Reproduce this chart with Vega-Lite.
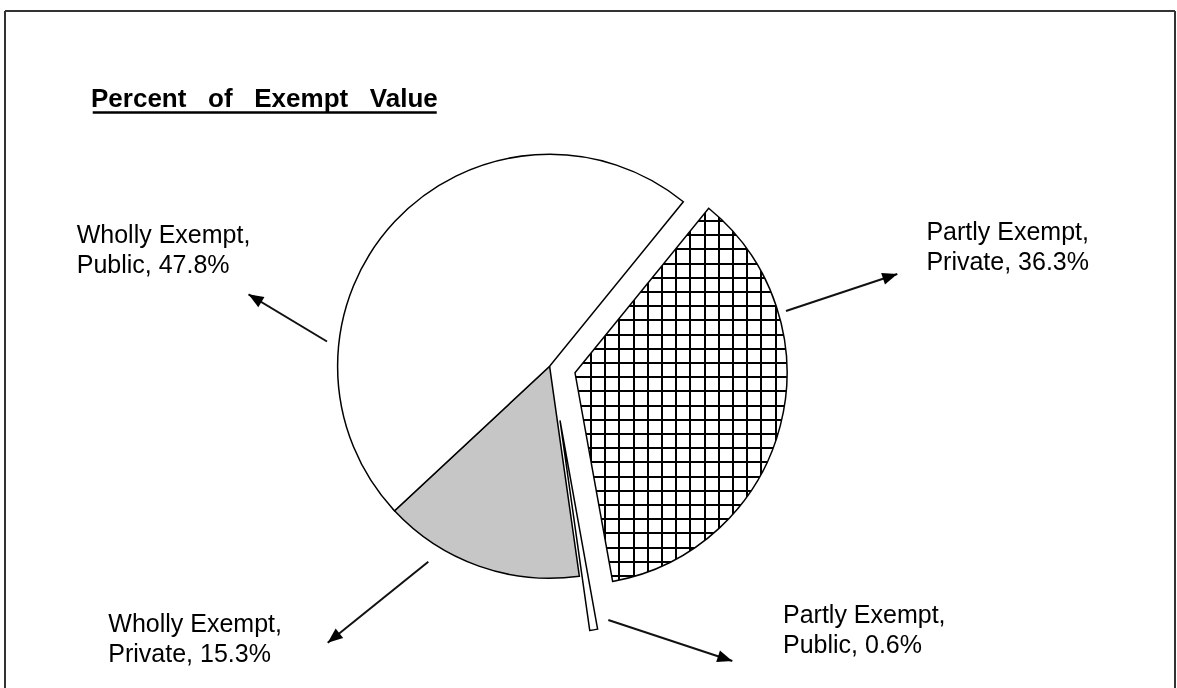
{
  "$schema": "https://vega.github.io/schema/vega-lite/v6.json",
  "width": 1177,
  "height": 688,
  "padding": 0,
  "autosize": {"type": "none"},
  "background": "#ffffff",
  "config": {"view": {"stroke": null}, "font": "Liberation Sans"},
  "datasets": {
    "slices": [
      {"category": "Partly Exempt, Private", "pct": 36.3, "order": 1},
      {"category": "Partly Exempt, Public", "pct": 0.6, "order": 2},
      {"category": "Wholly Exempt, Private", "pct": 15.3, "order": 3},
      {"category": "Wholly Exempt, Public", "pct": 47.8, "order": 4}
    ],
    "labels": [
      {"label": "Wholly Exempt,\nPublic, 47.8%", "lx": -2.2307, "ly": 0.5802},
      {"label": "Partly Exempt,\nPrivate, 36.3%", "lx": 1.7774, "ly": 0.5958},
      {"label": "Wholly Exempt,\nPrivate, 15.3%", "lx": -2.0816, "ly": -1.2519},
      {"label": "Partly Exempt,\nPublic, 0.6%", "lx": 1.1009, "ly": -1.2123}
    ],
    "arrows": [
      {"ax": -1.05, "ay": 0.117, "tx": -1.4203, "ty": 0.3396, "heading": 301.0},
      {"ax": 1.1151, "ay": 0.2608, "tx": 1.6401, "ty": 0.4354, "heading": 71.6},
      {"ax": -0.5722, "ay": -0.9217, "tx": -1.0467, "ty": -1.3038, "heading": 231.2},
      {"ax": 0.2769, "ay": -1.1967, "tx": 0.8618, "ty": -1.3901, "heading": 108.3}
    ]
  },
  "layer": [
    {
      "data": {"values": [{}]},
      "mark": {"type": "rule", "stroke": "#333333", "strokeWidth": 2},
      "encoding": {
        "x": {"datum": -2.5689, "type": "quantitative", "scale": {"domain": [-2.5925, 2.9594], "nice": false, "zero": false}, "axis": null},
        "x2": {"datum": 2.95},
        "y": {"datum": 1.6759, "type": "quantitative", "scale": {"domain": [-1.5175, 1.7278], "nice": false, "zero": false}, "axis": null}
      }
    },
    {
      "data": {"values": [{}]},
      "mark": {"type": "rule", "stroke": "#333333", "strokeWidth": 2},
      "encoding": {
        "x": {"datum": -2.5689, "type": "quantitative", "scale": {"domain": [-2.5925, 2.9594], "nice": false, "zero": false}, "axis": null},
        "y": {"datum": 1.6759, "type": "quantitative", "scale": {"domain": [-1.5175, 1.7278], "nice": false, "zero": false}, "axis": null},
        "y2": {"datum": -1.5175}
      }
    },
    {
      "data": {"values": [{}]},
      "mark": {"type": "rule", "stroke": "#333333", "strokeWidth": 2},
      "encoding": {
        "x": {"datum": 2.95, "type": "quantitative", "scale": {"domain": [-2.5925, 2.9594], "nice": false, "zero": false}, "axis": null},
        "y": {"datum": 1.6759, "type": "quantitative", "scale": {"domain": [-1.5175, 1.7278], "nice": false, "zero": false}, "axis": null},
        "y2": {"datum": -1.5175}
      }
    },
    {
      "data": {"name": "slices"},
      "transform": [
        {"stack": "pct", "groupby": [], "sort": [{"field": "order", "order": "ascending"}], "as": ["p0", "p1"]},
        {"filter": {"field": "category", "oneOf": ["Wholly Exempt, Public", "Wholly Exempt, Private"]}}
      ],
      "mark": {"type": "arc", "radius": 212, "stroke": "#000000", "strokeWidth": 1.5},
      "encoding": {
        "theta": {"field": "p0", "type": "quantitative", "stack": null, "scale": {"domain": [0, 100], "range": [0.6824, 6.9656]}},
        "theta2": {"field": "p1"},
        "x": {"datum": 0, "type": "quantitative", "scale": {"domain": [-2.5925, 2.9594], "nice": false, "zero": false}, "axis": null},
        "y": {"datum": 0, "type": "quantitative", "scale": {"domain": [-1.5175, 1.7278], "nice": false, "zero": false}, "axis": null},
        "fill": {"field": "category", "type": "nominal", "scale": {"domain": ["Wholly Exempt, Public", "Wholly Exempt, Private"], "range": ["#ffffff", "#c6c6c6"]}, "legend": null}
      }
    },
    {
      "data": {"name": "slices"},
      "transform": [
        {"stack": "pct", "groupby": [], "sort": [{"field": "order", "order": "ascending"}], "as": ["p0", "p1"]},
        {"filter": {"field": "category", "equal": "Partly Exempt, Public"}}
      ],
      "mark": {"type": "arc", "radius": 212, "fill": "#ffffff", "stroke": "#000000", "strokeWidth": 1.5},
      "encoding": {
        "theta": {"field": "p0", "type": "quantitative", "stack": null, "scale": {"domain": [0, 100], "range": [0.6824, 6.9656]}},
        "theta2": {"field": "p1"},
        "x": {"datum": 0.049, "type": "quantitative", "scale": {"domain": [-2.5925, 2.9594], "nice": false, "zero": false}, "axis": null},
        "y": {"datum": -0.2557, "type": "quantitative", "scale": {"domain": [-1.5175, 1.7278], "nice": false, "zero": false}, "axis": null}
      }
    },
    {
      "data": {"name": "slices"},
      "transform": [
        {"stack": "pct", "groupby": [], "sort": [{"field": "order", "order": "ascending"}], "as": ["p0", "p1"]},
        {"filter": {"field": "category", "equal": "Partly Exempt, Private"}}
      ],
      "mark": {
        "type": "arc", "radius": 212, "strokeWidth": 0,
        "fill": {
          "gradient": "linear", "x1": 0, "y1": 0, "x2": 1, "y2": 0,
          "stops": [
            {"offset": 0.0708, "color": "#ffffff"}, {"offset": 0.0708, "color": "#000000"}, {"offset": 0.0802, "color": "#000000"}, {"offset": 0.0802, "color": "#ffffff"},
            {"offset": 0.1378, "color": "#ffffff"}, {"offset": 0.1378, "color": "#000000"}, {"offset": 0.1472, "color": "#000000"}, {"offset": 0.1472, "color": "#ffffff"},
            {"offset": 0.2048, "color": "#ffffff"}, {"offset": 0.2048, "color": "#000000"}, {"offset": 0.2142, "color": "#000000"}, {"offset": 0.2142, "color": "#ffffff"},
            {"offset": 0.2717, "color": "#ffffff"}, {"offset": 0.2717, "color": "#000000"}, {"offset": 0.2811, "color": "#000000"}, {"offset": 0.2811, "color": "#ffffff"},
            {"offset": 0.3387, "color": "#ffffff"}, {"offset": 0.3387, "color": "#000000"}, {"offset": 0.3481, "color": "#000000"}, {"offset": 0.3481, "color": "#ffffff"},
            {"offset": 0.4057, "color": "#ffffff"}, {"offset": 0.4057, "color": "#000000"}, {"offset": 0.4151, "color": "#000000"}, {"offset": 0.4151, "color": "#ffffff"},
            {"offset": 0.4727, "color": "#ffffff"}, {"offset": 0.4727, "color": "#000000"}, {"offset": 0.4821, "color": "#000000"}, {"offset": 0.4821, "color": "#ffffff"},
            {"offset": 0.5397, "color": "#ffffff"}, {"offset": 0.5397, "color": "#000000"}, {"offset": 0.5491, "color": "#000000"}, {"offset": 0.5491, "color": "#ffffff"},
            {"offset": 0.6066, "color": "#ffffff"}, {"offset": 0.6066, "color": "#000000"}, {"offset": 0.616, "color": "#000000"}, {"offset": 0.616, "color": "#ffffff"},
            {"offset": 0.6736, "color": "#ffffff"}, {"offset": 0.6736, "color": "#000000"}, {"offset": 0.683, "color": "#000000"}, {"offset": 0.683, "color": "#ffffff"},
            {"offset": 0.7406, "color": "#ffffff"}, {"offset": 0.7406, "color": "#000000"}, {"offset": 0.75, "color": "#000000"}, {"offset": 0.75, "color": "#ffffff"},
            {"offset": 0.8076, "color": "#ffffff"}, {"offset": 0.8076, "color": "#000000"}, {"offset": 0.817, "color": "#000000"}, {"offset": 0.817, "color": "#ffffff"},
            {"offset": 0.8746, "color": "#ffffff"}, {"offset": 0.8746, "color": "#000000"}, {"offset": 0.884, "color": "#000000"}, {"offset": 0.884, "color": "#ffffff"},
            {"offset": 0.9415, "color": "#ffffff"}, {"offset": 0.9415, "color": "#000000"}, {"offset": 0.9509, "color": "#000000"}, {"offset": 0.9509, "color": "#ffffff"}
          ]
        }
      },
      "encoding": {
        "theta": {"field": "p0", "type": "quantitative", "stack": null, "scale": {"domain": [0, 100], "range": [0.6824, 6.9656]}},
        "theta2": {"field": "p1"},
        "x": {"datum": 0.1198, "type": "quantitative", "scale": {"domain": [-2.5925, 2.9594], "nice": false, "zero": false}, "axis": null},
        "y": {"datum": -0.0307, "type": "quantitative", "scale": {"domain": [-1.5175, 1.7278], "nice": false, "zero": false}, "axis": null}
      }
    },
    {
      "data": {"name": "slices"},
      "transform": [
        {"stack": "pct", "groupby": [], "sort": [{"field": "order", "order": "ascending"}], "as": ["p0", "p1"]},
        {"filter": {"field": "category", "equal": "Partly Exempt, Private"}}
      ],
      "mark": {
        "type": "arc", "radius": 212, "stroke": "#000000", "strokeWidth": 1.5, "blend": "multiply",
        "fill": {
          "gradient": "linear", "x1": 0, "y1": 0, "x2": 0, "y2": 1,
          "stops": [
            {"offset": 0.0314, "color": "#ffffff"}, {"offset": 0.0314, "color": "#000000"}, {"offset": 0.0368, "color": "#000000"}, {"offset": 0.0368, "color": "#ffffff"},
            {"offset": 0.0694, "color": "#ffffff"}, {"offset": 0.0694, "color": "#000000"}, {"offset": 0.0748, "color": "#000000"}, {"offset": 0.0748, "color": "#ffffff"},
            {"offset": 0.1075, "color": "#ffffff"}, {"offset": 0.1075, "color": "#000000"}, {"offset": 0.1129, "color": "#000000"}, {"offset": 0.1129, "color": "#ffffff"},
            {"offset": 0.1456, "color": "#ffffff"}, {"offset": 0.1456, "color": "#000000"}, {"offset": 0.151, "color": "#000000"}, {"offset": 0.151, "color": "#ffffff"},
            {"offset": 0.1836, "color": "#ffffff"}, {"offset": 0.1836, "color": "#000000"}, {"offset": 0.189, "color": "#000000"}, {"offset": 0.189, "color": "#ffffff"},
            {"offset": 0.2217, "color": "#ffffff"}, {"offset": 0.2217, "color": "#000000"}, {"offset": 0.2271, "color": "#000000"}, {"offset": 0.2271, "color": "#ffffff"},
            {"offset": 0.2597, "color": "#ffffff"}, {"offset": 0.2597, "color": "#000000"}, {"offset": 0.2651, "color": "#000000"}, {"offset": 0.2651, "color": "#ffffff"},
            {"offset": 0.2978, "color": "#ffffff"}, {"offset": 0.2978, "color": "#000000"}, {"offset": 0.3032, "color": "#000000"}, {"offset": 0.3032, "color": "#ffffff"},
            {"offset": 0.3358, "color": "#ffffff"}, {"offset": 0.3358, "color": "#000000"}, {"offset": 0.3412, "color": "#000000"}, {"offset": 0.3412, "color": "#ffffff"},
            {"offset": 0.3739, "color": "#ffffff"}, {"offset": 0.3739, "color": "#000000"}, {"offset": 0.3793, "color": "#000000"}, {"offset": 0.3793, "color": "#ffffff"},
            {"offset": 0.412, "color": "#ffffff"}, {"offset": 0.412, "color": "#000000"}, {"offset": 0.4174, "color": "#000000"}, {"offset": 0.4174, "color": "#ffffff"},
            {"offset": 0.45, "color": "#ffffff"}, {"offset": 0.45, "color": "#000000"}, {"offset": 0.4554, "color": "#000000"}, {"offset": 0.4554, "color": "#ffffff"},
            {"offset": 0.4881, "color": "#ffffff"}, {"offset": 0.4881, "color": "#000000"}, {"offset": 0.4935, "color": "#000000"}, {"offset": 0.4935, "color": "#ffffff"},
            {"offset": 0.5261, "color": "#ffffff"}, {"offset": 0.5261, "color": "#000000"}, {"offset": 0.5315, "color": "#000000"}, {"offset": 0.5315, "color": "#ffffff"},
            {"offset": 0.5642, "color": "#ffffff"}, {"offset": 0.5642, "color": "#000000"}, {"offset": 0.5696, "color": "#000000"}, {"offset": 0.5696, "color": "#ffffff"},
            {"offset": 0.6022, "color": "#ffffff"}, {"offset": 0.6022, "color": "#000000"}, {"offset": 0.6076, "color": "#000000"}, {"offset": 0.6076, "color": "#ffffff"},
            {"offset": 0.6403, "color": "#ffffff"}, {"offset": 0.6403, "color": "#000000"}, {"offset": 0.6457, "color": "#000000"}, {"offset": 0.6457, "color": "#ffffff"},
            {"offset": 0.6784, "color": "#ffffff"}, {"offset": 0.6784, "color": "#000000"}, {"offset": 0.6838, "color": "#000000"}, {"offset": 0.6838, "color": "#ffffff"},
            {"offset": 0.7164, "color": "#ffffff"}, {"offset": 0.7164, "color": "#000000"}, {"offset": 0.7218, "color": "#000000"}, {"offset": 0.7218, "color": "#ffffff"},
            {"offset": 0.7545, "color": "#ffffff"}, {"offset": 0.7545, "color": "#000000"}, {"offset": 0.7599, "color": "#000000"}, {"offset": 0.7599, "color": "#ffffff"},
            {"offset": 0.7925, "color": "#ffffff"}, {"offset": 0.7925, "color": "#000000"}, {"offset": 0.7979, "color": "#000000"}, {"offset": 0.7979, "color": "#ffffff"},
            {"offset": 0.8306, "color": "#ffffff"}, {"offset": 0.8306, "color": "#000000"}, {"offset": 0.836, "color": "#000000"}, {"offset": 0.836, "color": "#ffffff"},
            {"offset": 0.8686, "color": "#ffffff"}, {"offset": 0.8686, "color": "#000000"}, {"offset": 0.874, "color": "#000000"}, {"offset": 0.874, "color": "#ffffff"},
            {"offset": 0.9067, "color": "#ffffff"}, {"offset": 0.9067, "color": "#000000"}, {"offset": 0.9121, "color": "#000000"}, {"offset": 0.9121, "color": "#ffffff"},
            {"offset": 0.9448, "color": "#ffffff"}, {"offset": 0.9448, "color": "#000000"}, {"offset": 0.9502, "color": "#000000"}, {"offset": 0.9502, "color": "#ffffff"},
            {"offset": 0.9828, "color": "#ffffff"}, {"offset": 0.9828, "color": "#000000"}, {"offset": 0.9882, "color": "#000000"}, {"offset": 0.9882, "color": "#ffffff"}
          ]
        }
      },
      "encoding": {
        "theta": {"field": "p0", "type": "quantitative", "stack": null, "scale": {"domain": [0, 100], "range": [0.6824, 6.9656]}},
        "theta2": {"field": "p1"},
        "x": {"datum": 0.1198, "type": "quantitative", "scale": {"domain": [-2.5925, 2.9594], "nice": false, "zero": false}, "axis": null},
        "y": {"datum": -0.0307, "type": "quantitative", "scale": {"domain": [-1.5175, 1.7278], "nice": false, "zero": false}, "axis": null}
      }
    },
    {
      "data": {"name": "arrows"},
      "mark": {"type": "rule", "stroke": "#111111", "strokeWidth": 2},
      "encoding": {
        "x": {"field": "ax", "type": "quantitative", "scale": {"domain": [-2.5925, 2.9594], "nice": false, "zero": false}, "axis": null},
        "y": {"field": "ay", "type": "quantitative", "scale": {"domain": [-1.5175, 1.7278], "nice": false, "zero": false}, "axis": null},
        "x2": {"field": "tx"},
        "y2": {"field": "ty"}
      }
    },
    {
      "data": {"name": "arrows"},
      "mark": {"type": "point", "shape": "M0,0L0.4,1L-0.4,1Z", "size": 900, "filled": true, "color": "#000000", "opacity": 1},
      "encoding": {
        "x": {"field": "tx", "type": "quantitative", "scale": {"domain": [-2.5925, 2.9594], "nice": false, "zero": false}, "axis": null},
        "y": {"field": "ty", "type": "quantitative", "scale": {"domain": [-1.5175, 1.7278], "nice": false, "zero": false}, "axis": null},
        "angle": {"field": "heading", "type": "quantitative", "scale": null}
      }
    },
    {
      "data": {"name": "labels"},
      "mark": {"type": "text", "align": "left", "baseline": "alphabetic", "font": "Liberation Sans", "fontSize": 25, "lineHeight": 30, "lineBreak": "\n", "color": "#000000"},
      "encoding": {
        "x": {"field": "lx", "type": "quantitative", "scale": {"domain": [-2.5925, 2.9594], "nice": false, "zero": false}, "axis": null},
        "y": {"field": "ly", "type": "quantitative", "scale": {"domain": [-1.5175, 1.7278], "nice": false, "zero": false}, "axis": null},
        "text": {"field": "label", "type": "nominal"}
      }
    },
    {
      "data": {"values": [{}]},
      "mark": {"type": "text", "text": "Percent\u00a0\u00a0\u00a0of\u00a0\u00a0\u00a0Exempt\u00a0\u00a0\u00a0Value", "align": "left", "baseline": "alphabetic", "font": "Liberation Sans", "fontSize": 26, "fontWeight": "bold", "color": "#000000"},
      "encoding": {
        "x": {"datum": -2.1632, "type": "quantitative", "scale": {"domain": [-2.5925, 2.9594], "nice": false, "zero": false}, "axis": null},
        "y": {"datum": 1.2217, "type": "quantitative", "scale": {"domain": [-1.5175, 1.7278], "nice": false, "zero": false}, "axis": null}
      }
    },
    {
      "data": {"values": [{}]},
      "mark": {"type": "rule", "stroke": "#000000", "strokeWidth": 2.5},
      "encoding": {
        "x": {"datum": -2.1552, "type": "quantitative", "scale": {"domain": [-2.5925, 2.9594], "nice": false, "zero": false}, "axis": null},
        "x2": {"datum": -0.5325},
        "y": {"datum": 1.1972, "type": "quantitative", "scale": {"domain": [-1.5175, 1.7278], "nice": false, "zero": false}, "axis": null}
      }
    }
  ]
}
